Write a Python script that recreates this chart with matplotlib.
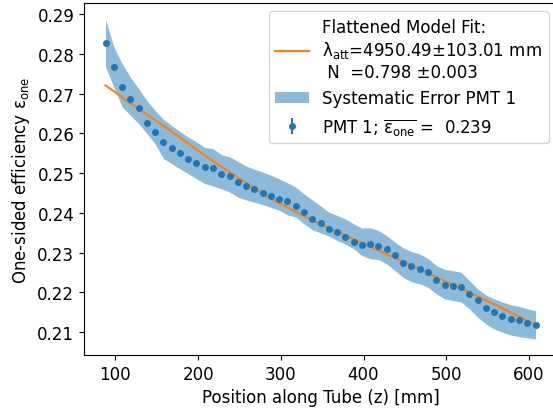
import matplotlib
matplotlib.use("Agg")
import matplotlib.pyplot as plt
import numpy as np

plt.rcParams['font.size'] = 12

# Positions along tube (mm)
z_pos = [88, 98, 108, 118, 128, 138, 148, 158, 168, 178,
         188, 198, 208, 218, 228, 238, 248, 258, 268, 278,
         288, 298, 308, 318, 328, 338, 348, 358, 368, 378,
         388, 398, 408, 418, 428, 438, 448, 458, 468, 478,
         488, 498, 508, 518, 528, 538, 548, 558, 568, 578,
         588, 598, 608]

# Measured one-sided efficiency, PMT 1
eff = [0.2827, 0.2767, 0.2718, 0.2688, 0.2663, 0.2626, 0.2604, 0.2578, 0.2564, 0.2551,
       0.2536, 0.2525, 0.2515, 0.2513, 0.2497, 0.2493, 0.2478, 0.2469, 0.2461, 0.2451,
       0.2443, 0.2436, 0.2429, 0.2418, 0.2403, 0.2385, 0.2374, 0.2359, 0.2353, 0.2340,
       0.2328, 0.2320, 0.2323, 0.2317, 0.2309, 0.2295, 0.2275, 0.2266, 0.2260, 0.2251,
       0.2232, 0.2219, 0.2216, 0.2213, 0.2196, 0.2181, 0.2162, 0.2150, 0.2142, 0.2134,
       0.2131, 0.2122, 0.2118]

# Statistical errors (too small to be visible)
eff_err = [0.0] * 53

# Systematic error band edges
sys_upper = [0.2888, 0.2818, 0.2776, 0.2742, 0.2713, 0.2683, 0.2658, 0.2636, 0.2620, 0.2605,
             0.2591, 0.2579, 0.2565, 0.2562, 0.2547, 0.2541, 0.2530, 0.2518, 0.2510, 0.2503,
             0.2495, 0.2486, 0.2476, 0.2465, 0.2448, 0.2433, 0.2418, 0.2402, 0.2394, 0.2385,
             0.2373, 0.2362, 0.2363, 0.2356, 0.2343, 0.2327, 0.2312, 0.2303, 0.2297, 0.2285,
             0.2268, 0.2258, 0.2255, 0.2251, 0.2230, 0.2209, 0.2194, 0.2184, 0.2176, 0.2169,
             0.2165, 0.2159, 0.2154]
sys_lower = [0.2768, 0.2717, 0.2667, 0.2646, 0.2625, 0.2600, 0.2574, 0.2537, 0.2524, 0.2511,
             0.2499, 0.2486, 0.2474, 0.2468, 0.2461, 0.2453, 0.2440, 0.2433, 0.2427, 0.2421,
             0.2414, 0.2407, 0.2395, 0.2390, 0.2373, 0.2358, 0.2350, 0.2342, 0.2331, 0.2322,
             0.2310, 0.2293, 0.2285, 0.2283, 0.2272, 0.2255, 0.2238, 0.2227, 0.2222, 0.2213,
             0.2197, 0.2184, 0.2180, 0.2176, 0.2159, 0.2138, 0.2121, 0.2108, 0.2100, 0.2093,
             0.2089, 0.2086, 0.2083]

# Flattened model fit curve
fit_z = [88, 128, 168, 208, 248, 288, 328, 368, 408, 448, 488, 528, 568, 608]
fit_eff = [0.2721, 0.2662, 0.2605, 0.2545, 0.2489, 0.2436, 0.2392, 0.2353, 0.2315,
           0.2278, 0.2239, 0.2200, 0.2160, 0.2119]

fit_label = ('Flattened Model Fit:\n'
             'λ$_{\\rm att}$=4950.49±103.01 mm\n'
             ' N  =0.798 ±0.003')
data_label = 'PMT 1; $\\overline{\\mathrm{\\varepsilon}_{\\rm one}}$ =  0.239'

fig = plt.figure(figsize=(5.53, 4.10), dpi=100)
ax = fig.add_axes([84/553, (410-356)/410, 473/553, 352/410])

ax.plot(fit_z, fit_eff, color='C1', lw=1.5, label=fit_label)
ax.fill_between(z_pos, sys_lower, sys_upper, color='C0', alpha=0.5, lw=0,
                label='Systematic Error PMT 1')
ax.errorbar(z_pos, eff, yerr=eff_err, fmt='o', color='C0', markersize=4,
            label=data_label)

ax.set_xlabel('Position along Tube (z) [mm]')
ax.set_ylabel('One-sided efficiency ε$_{\\rm one}$')
ax.set_xticks([100, 200, 300, 400, 500, 600])
ax.set_yticks([0.21, 0.22, 0.23, 0.24, 0.25, 0.26, 0.27, 0.28, 0.29])
leg = ax.legend(loc='upper right')
for t in leg.get_texts():
    t.set_multialignment('left')

fig.savefig('out.png', dpi=100)
